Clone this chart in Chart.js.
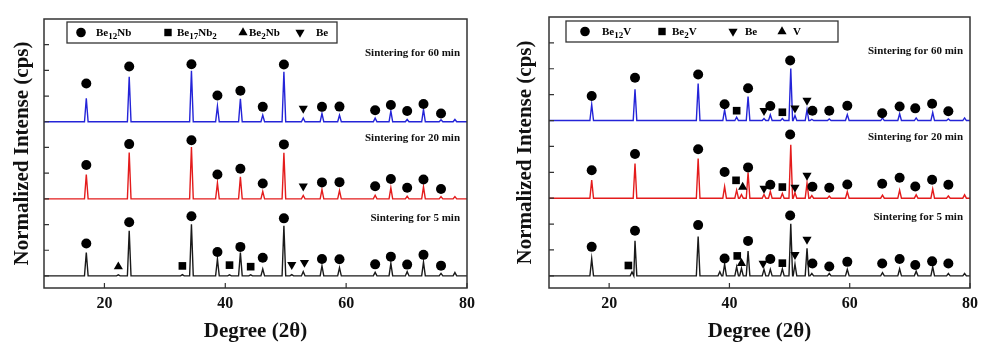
<!DOCTYPE html>
<html><head><meta charset="utf-8">
<script src="https://cdn.jsdelivr.net/npm/chart.js@4/dist/chart.umd.min.js"></script>
<style>
html,body{margin:0;padding:0;background:#fff;width:984px;height:344px;overflow:hidden}
canvas{position:absolute;top:0}
#c1{left:0}#c2{left:490px}
</style></head><body>
<canvas id="c1" width="490" height="344"></canvas>
<canvas id="c2" width="494" height="344"></canvas>
<script>
// ---------- shared ----------
const xTicks = [20, 40, 60, 80];
const yTickVals = [0, 1, 2, 3, 4, 5, 6, 7, 8, 9];
const baseOffsets = {m5: 0, m20: 3, m60: 6};
const seriesLabels = ['Sintering for 60 min', 'Sintering for 20 min', 'Sintering for 5 min'];
const seriesLabelY = [8.68, 5.37, 2.25];

// ---------- Be-Nb panel ----------
const nbPos60 = [17.0,24.1,34.4,38.7,42.5,46.2,49.7,52.9,56.0,58.9,64.8,67.4,70.1,72.8,75.7,78.0];
const nbH60   = [0.91,1.75,1.98,0.61,0.89,0.26,1.95,0.14,0.32,0.26,0.14,0.42,0.09,0.48,0.08,0.09];
const nbPos20 = [17.0,24.1,34.4,38.7,42.5,46.2,49.7,52.9,56.0,58.9,64.8,67.4,70.1,72.8,75.7,78.0];
const nbH20   = [0.95,1.80,2.02,0.62,0.86,0.29,1.79,0.13,0.36,0.32,0.14,0.43,0.10,0.47,0.09,0.09];
const nbPos5  = [17.0,22.3,24.1,32.9,34.4,38.7,40.7,42.5,44.2,46.2,49.7,51.0,52.9,56.0,58.9,64.8,67.4,70.1,72.8,75.7,78.0];
const nbH5    = [0.91,0.04,1.76,0.05,2.01,0.66,0.04,0.91,0.04,0.27,1.95,0.05,0.17,0.39,0.32,0.14,0.49,0.17,0.54,0.10,0.13];

const nbCircX   = [17.0,24.1,34.4,38.7,42.5,46.2,49.7,56.0,58.9,64.8,67.4,70.1,72.8,75.7];
const nbCircY60 = [7.49,8.15,8.24,7.02,7.21,6.58,8.23,6.58,6.59,6.45,6.65,6.42,6.69,6.32];
const nbCircY20 = [4.32,5.13,5.28,3.95,4.17,3.60,5.12,3.64,3.65,3.49,3.77,3.43,3.75,3.38];
const nbCircY5  = [1.26,2.09,2.32,0.93,1.13,0.71,2.24,0.66,0.65,0.45,0.75,0.44,0.82,0.40];
const nbSqX = [32.9,40.7,44.2], nbSqY = [0.39,0.42,0.36];
const nbUpX = [22.3], nbUpY = [0.36];
const nbDownX = [52.9,52.9,51.0,53.1], nbDownY = [6.52,3.49,0.44,0.52];

// ---------- Be-V panel ----------
const vPos60 = [17.1,24.3,34.8,39.2,41.2,43.1,45.75,46.8,48.8,50.2,50.9,52.9,53.7,56.6,59.6,65.45,68.3,71.05,73.8,76.4,79.1];
const vH60   = [0.62,1.21,1.43,0.42,0.13,0.93,0.08,0.22,0.08,2.01,0.19,0.42,0.05,0.06,0.23,0.10,0.26,0.10,0.31,0.06,0.10];
const vPos20 = [17.1,24.3,34.8,39.2,41.2,42.0,43.1,45.75,46.8,48.8,50.2,50.9,52.9,53.7,56.6,59.6,65.45,68.3,71.05,73.8,76.4,79.1];
const vH20   = [0.70,1.34,1.53,0.45,0.31,0.14,0.99,0.14,0.26,0.18,2.06,0.21,0.58,0.10,0.08,0.25,0.12,0.31,0.13,0.36,0.09,0.13];
const vPos5  = [17.1,23.8,24.3,34.8,38.4,39.2,41.2,42.0,43.1,45.75,46.8,48.8,50.2,50.9,52.9,53.7,56.6,59.6,65.45,68.3,71.05,73.8,76.4,79.1];
const vH5    = [0.66,0.15,1.35,1.52,0.16,0.45,0.35,0.29,0.96,0.25,0.25,0.27,2.01,0.45,1.06,0.09,0.09,0.25,0.12,0.27,0.18,0.35,0.09,0.09];

const vCircX   = [17.1,24.3,34.8,39.2,43.1,46.8,50.1,53.8,56.6,59.6,65.4,68.3,70.9,73.7,76.4];
const vCircY60 = [6.95,7.65,7.78,6.63,7.25,6.56,8.32,6.38,6.38,6.57,6.28,6.54,6.47,6.65,6.36];
const vCircY20 = [4.08,4.71,4.89,4.01,4.19,3.52,5.46,3.44,3.40,3.53,3.56,3.79,3.45,3.71,3.52];
const vCircY5  = [1.12,1.74,1.96,0.67,1.35,0.65,2.33,0.48,0.36,0.54,0.48,0.65,0.42,0.56,0.48];
const vSqX = [41.2,48.8,41.1,48.8,23.2,41.3,48.8], vSqY = [6.38,6.32,3.69,3.43,0.40,0.77,0.49];
const vUpX = [42.2,42.0], vUpY = [3.43,0.48];
const vDownX = [45.75,50.9,52.9,45.75,50.9,52.9,45.6,50.9,52.9], vDownY = [6.38,6.48,6.78,3.38,3.42,3.88,0.48,0.82,1.41];

// ---------- helpers ----------
const FONT = '"Liberation Serif","Times New Roman",serif';
function spectrum(base, pos, h) {
  const pts = [{x: 10, y: base}];
  pos.forEach((p, i) => { pts.push({x: p - 0.3, y: base}, {x: p, y: base + h[i]}, {x: p + 0.3, y: base}); });
  pts.push({x: 80, y: base});
  return pts;
}
function xy(xs, ys) { return xs.map((x, i) => ({x: x, y: ys[i]})); }
function lineDs(data, color) {
  return {type: 'line', data: data, borderColor: color, borderWidth: 1.4, pointRadius: 0, tension: 0, fill: false, order: 2};
}
function markDs(data, style, r, rot) {
  return {type: 'scatter', data: data, pointStyle: style, pointRadius: r, pointRotation: rot || 0,
          backgroundColor: '#000', borderColor: '#000', borderWidth: 0, order: 1};
}
function drawShape(ctx, shape, x, y) {
  ctx.beginPath();
  if (shape === 'circle') { ctx.arc(x, y, 4.8, 0, Math.PI * 2); }
  else if (shape === 'rect') { ctx.rect(x - 3.7, y - 3.7, 7.4, 7.4); }
  else if (shape === 'up') { ctx.moveTo(x, y - 5.2); ctx.lineTo(x + 4.6, y + 2.7); ctx.lineTo(x - 4.6, y + 2.7); ctx.closePath(); }
  else { ctx.moveTo(x, y + 5.2); ctx.lineTo(x + 4.6, y - 2.7); ctx.lineTo(x - 4.6, y - 2.7); ctx.closePath(); }
  ctx.fillStyle = '#000'; ctx.fill();
}
function framePlugin(cfg) {
  return {
    id: 'frame',
    afterDatasetsDraw(chart) {
      const ctx = chart.ctx, a = chart.chartArea, xs = chart.scales.x, ys = chart.scales.y;
      ctx.save();
      ctx.strokeStyle = '#333'; ctx.lineWidth = 1.5;
      ctx.strokeRect(a.left, a.top, a.right - a.left, a.bottom - a.top);
      ctx.lineWidth = 1.2; ctx.beginPath();
      yTickVals.forEach(v => { const py = ys.getPixelForValue(v); ctx.moveTo(a.left, py); ctx.lineTo(a.left + 5, py); });
      xTicks.forEach(v => { const px = xs.getPixelForValue(v); ctx.moveTo(px, a.bottom); ctx.lineTo(px, a.bottom - 5); });
      ctx.stroke();
      // sintering labels
      ctx.fillStyle = '#111'; ctx.font = 'bold 11px ' + FONT; ctx.textAlign = 'right'; ctx.textBaseline = 'middle';
      seriesLabels.forEach((t, i) => ctx.fillText(t, a.right - 7, ys.getPixelForValue(seriesLabelY[i])));
      // legend box
      const L = cfg.legend;
      ctx.lineWidth = 1.3; ctx.strokeStyle = '#333';
      ctx.strokeRect(L.left, L.top, L.right - L.left, L.bottom - L.top);
      const cy = (L.top + L.bottom) / 2;
      ctx.textAlign = 'left'; ctx.textBaseline = 'alphabetic';
      L.items.forEach(it => {
        drawShape(ctx, it.shape, it.mx, cy);
        let x = it.tx;
        it.parts.forEach(p => {
          const sub = p[1];
          ctx.font = 'bold ' + (sub ? 9 : 11) + 'px ' + FONT;
          ctx.fillText(p[0], x, cy + (sub ? 6 : 3));
          x += ctx.measureText(p[0]).width;
        });
      });
      ctx.restore();
    }
  };
}
function makeChart(id, datasets, padRight, padTop, yWidth, titlePad, legend) {
  return new Chart(document.getElementById(id), {
    data: {datasets: datasets},
    options: {
      responsive: false, animation: false, events: [],
      layout: {padding: {left: 0, right: padRight, top: padTop, bottom: 0}},
      plugins: {legend: {display: false}, tooltip: {enabled: false}},
      scales: {
        x: {type: 'linear', min: 10, max: 80, grid: {display: false, drawTicks: false}, border: {display: false},
            afterBuildTicks: s => { s.ticks = xTicks.map(v => ({value: v})); },
            afterFit: s => { s.height = 56; },
            ticks: {padding: 6, color: '#111', font: {family: FONT, size: 16, weight: 'bold'}},
            title: {display: true, text: 'Degree (2θ)', color: '#111', padding: {top: 0, bottom: 0},
                    font: {family: FONT, size: 21, weight: 'bold', lineHeight: 1.2}}},
        y: {type: 'linear', min: -0.47, max: 10, grid: {display: false, drawTicks: false}, border: {display: false},
            ticks: {display: false},
            afterFit: s => { s.width = yWidth; },
            title: {display: true, text: 'Normalized Intense (cps)', color: '#111', padding: {top: titlePad, bottom: 0},
                    font: {family: FONT, size: 21, weight: 'bold', lineHeight: 1.2}}}
      }
    },
    plugins: [framePlugin({legend: legend})]
  });
}

const BLUE = '#2424d8', RED = '#e41c1c', BLACK = '#1a1a1a';

makeChart('c1', [
  lineDs(spectrum(baseOffsets.m60, nbPos60, nbH60), BLUE),
  lineDs(spectrum(baseOffsets.m20, nbPos20, nbH20), RED),
  lineDs(spectrum(baseOffsets.m5, nbPos5, nbH5), BLACK),
  markDs(xy(nbCircX, nbCircY60).concat(xy(nbCircX, nbCircY20), xy(nbCircX, nbCircY5)), 'circle', 5),
  markDs(xy(nbSqX, nbSqY), 'rect', 5.4),
  markDs(xy(nbUpX, nbUpY), 'triangle', 5.3),
  markDs(xy(nbDownX, nbDownY), 'triangle', 5.3, 180)
], 23, 19, 44, 10, {
  left: 67, right: 337, top: 22, bottom: 43,
  items: [
    {shape: 'circle', mx: 81, tx: 96, parts: [['Be', 0], ['12', 1], ['Nb', 0]]},
    {shape: 'rect', mx: 168, tx: 177, parts: [['Be', 0], ['17', 1], ['Nb', 0], ['2', 1]]},
    {shape: 'up', mx: 243, tx: 249, parts: [['Be', 0], ['2', 1], ['Nb', 0]]},
    {shape: 'down', mx: 300, tx: 316, parts: [['Be', 0]]}
  ]
});

makeChart('c2', [
  lineDs(spectrum(baseOffsets.m60, vPos60, vH60), BLUE),
  lineDs(spectrum(baseOffsets.m20, vPos20, vH20), RED),
  lineDs(spectrum(baseOffsets.m5, vPos5, vH5), BLACK),
  markDs(xy(vCircX, vCircY60).concat(xy(vCircX, vCircY20), xy(vCircX, vCircY5)), 'circle', 5),
  markDs(xy(vSqX, vSqY), 'rect', 5.4),
  markDs(xy(vUpX, vUpY), 'triangle', 5.3),
  markDs(xy(vDownX, vDownY), 'triangle', 5.3, 180)
], 10, 17, 59, 23, {
  left: 76, right: 348, top: 21, bottom: 42,
  items: [
    {shape: 'circle', mx: 95, tx: 112, parts: [['Be', 0], ['12', 1], ['V', 0]]},
    {shape: 'rect', mx: 172, tx: 182, parts: [['Be', 0], ['2', 1], ['V', 0]]},
    {shape: 'down', mx: 243, tx: 255, parts: [['Be', 0]]},
    {shape: 'up', mx: 292, tx: 303, parts: [['V', 0]]}
  ]
});
</script>
</body></html>
